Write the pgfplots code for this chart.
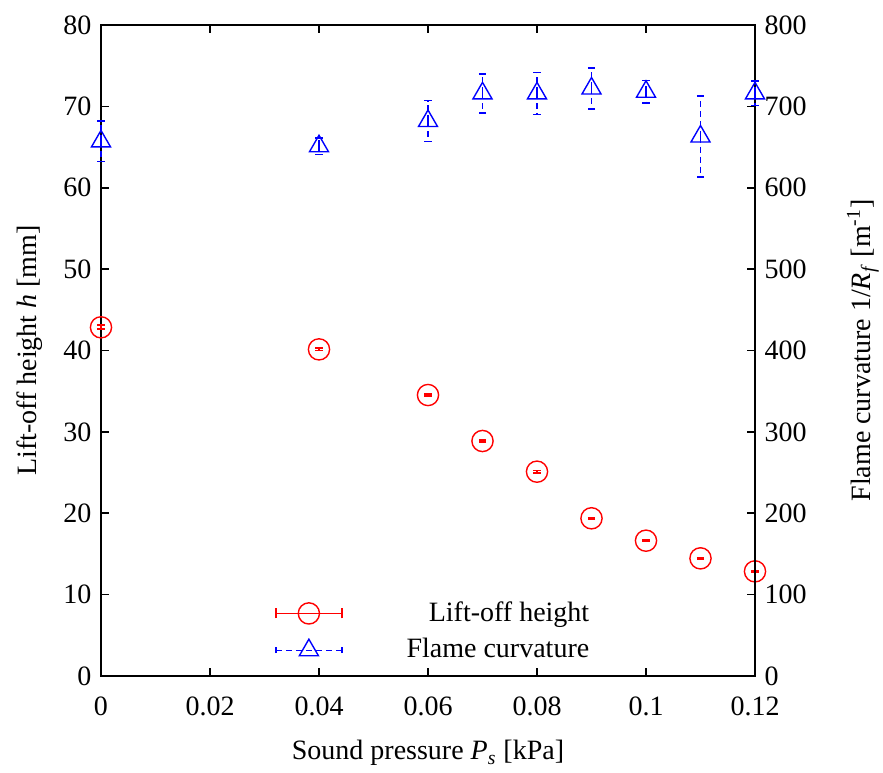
\documentclass[border=0pt]{standalone}
\usepackage{pgfplots}
\pgfplotsset{compat=1.18}
\usepackage{fontspec}
\setmainfont{Liberation Serif}
\pgfplotstableread{
x     y      e
0     42.85  0.25
0.04  40.14  0.15
0.06  34.53  0.10
0.07  28.88  0.10
0.08  25.11  0.15
0.09  19.38  0.10
0.10  16.63  0.10
0.11  14.46  0.10
0.12  12.86  0.10
}\lifttable
\pgfplotstableread{
x     y     e
0     657   25
0.04  651   10
0.06  682   25
0.07  716   24
0.08  716   26
0.09  722   25
0.10  718   14
0.11  663   50
0.12  716   15
}\curvtable
\begin{document}
\fontsize{14}{16}\selectfont
\begin{tikzpicture}
\pgfplotsset{
  every axis/.append style={
    scale only axis, width=327pt, height=325.5pt,
    at={(0,0)}, anchor=south west,
    xmin=0, xmax=0.12,
    /pgf/number format/assume math mode=true,
    axis line style={line width=0.9pt},
    every tick/.style={black, line width=0.8pt},
    major tick length=4pt,
    tick align=inside,
  },
}
\begin{axis}[
  ymin=0, ymax=80, ytick={0,10,20,30,40,50,60,70,80},
  xtick={0,0.02,0.04,0.06,0.08,0.1,0.12},
  xticklabels={0,0.02,0.04,0.06,0.08,0.1,0.12},
  xticklabel style={yshift=-5.5pt},
  xtick pos=both, ytick pos=left,
  xlabel={Sound pressure \textit{P}\textsubscript{\textit{s}} [kPa]},
  ylabel={Lift-off height \textit{h} [mm]},
  xlabel style={at={(axis description cs:0.5,-0.1185)}, anchor=center, inner sep=0pt},
  ylabel style={at={(axis description cs:-0.1086,0.5)}, anchor=center, inner sep=0pt},
  clip=false,
]
\addplot[red, only marks, mark=o, mark size=5.3pt, line width=0.7pt,
  error bars/.cd, y dir=both, y explicit,
  error bar style={line width=0.8pt, solid},
  error mark options={rotate=90, mark size=1.8pt, line width=0.9pt}]
  table[x=x, y=y, y error=e] {\lifttable};
\end{axis}
\begin{axis}[
  ymin=0, ymax=800, ytick={0,100,200,300,400,500,600,700,800},
  axis x line=none, axis y line*=right,
  ylabel={Flame curvature 1/\textit{R}\textsubscript{\textit{f}} [m\textsuperscript{-1}]},
  ylabel style={at={(axis description cs:1.165,0.5)}, anchor=center, inner sep=0pt},
  clip=false,
  legend style={at={(0.508,0.068)}, anchor=center, draw=none, fill=none,
    column sep=31pt, row sep=4.5pt, nodes={inner sep=1pt}},
  legend cell align=right,
]
\addlegendimage{legend image code/.code={
  \draw[red, line width=0.7pt] (0pt,0pt) -- (33pt,0pt);
  \draw[red, line width=0.7pt] (0pt,-2.5pt) -- (0pt,2.5pt) (33pt,-2.5pt) -- (33pt,2.5pt);
  \draw[red, line width=0.7pt] (16.5pt,0pt) circle (5.3pt);
}}
\addlegendentry{Lift-off height}
\addplot[blue, only marks, mark=triangle, mark size=5.5pt, line width=0.7pt,
  legend image code/.code={
  \draw[blue, line width=0.7pt, dash pattern=on 3pt off 2pt] (0pt,0pt) -- (33pt,0pt);
  \draw[blue, line width=0.7pt] (0pt,-1.5pt) -- (0pt,1.5pt) (33pt,-1.5pt) -- (33pt,1.5pt);
  \draw[blue, line width=0.7pt, solid] plot[mark=triangle, mark size=5.5pt] coordinates {(16.5pt,0pt)};
  },
  error bars/.cd, y dir=both, y explicit,
  error bar style={line width=0.7pt, dash pattern=on 3pt off 2pt},
  error mark options={rotate=90, mark size=1.8pt, line width=0.7pt, solid}]
  table[x=x, y=y, y error=e] {\curvtable};
\addlegendentry{Flame curvature}
\end{axis}
\path (-50.5pt,-48pt) rectangle (391pt,338pt);
\end{tikzpicture}
\end{document}
